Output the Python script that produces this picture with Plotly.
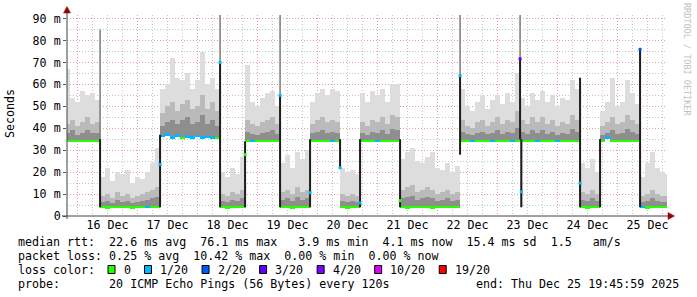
import plotly.graph_objects as go
import pandas as pd

# ---------------- data ----------------
first_bin = "2025-12-15 19:00"   # 2-hour bins
x_range = ["2025-12-15 19:46", "2025-12-25 19:46"]

median = [
    34.3, 34.2, 34.2, 34.3, 34.2, 34.2, 34.3,
    4.1, 4.0, 4.1, 4.1, 4.2, 4.1, 4.0, 4.1, 4.1, 4.2, 4.1, 4.1,
    36.5, 37.2, 36.0, 36.8, 35.8, 36.3, 36.0, 36.5, 35.9, 36.2, 36.0, 35.8,
    4.1, 4.0, 4.1, 4.1, 4.2,
    34.3, 34.2, 34.2, 34.3, 34.2, 34.3, 34.2,
    4.1, 4.1, 4.0, 4.1, 4.1, 4.2,
    34.3, 34.2, 34.3, 34.2, 34.2, 34.3,
    4.1, 4.0, 4.1, 4.1,
    34.3, 34.2, 34.2, 34.3, 34.2, 34.2, 34.3, 34.2,
    4.1, 4.0, 4.1, 4.1, 4.2, 4.1, 4.0, 4.1, 4.1, 4.2, 4.1, 4.1,
    34.3, 34.2, 34.4, 34.2, 34.3, 34.2, 34.4, 34.2, 34.3, 34.2, 34.3, 34.2,
    34.4, 34.2, 34.3, 34.2, 34.3, 34.2, 34.4, 34.2, 34.3, 34.2, 34.3, 34.2,
    4.1, 4.0, 4.1, 4.1,
    34.3, 36.0, 34.3, 34.2, 34.2, 34.3, 34.2, 34.3,
    4.1, 4.0, 4.1, 4.1, 4.2, 4.1,
]

loss = [
    0, 0, 0, 0, 0, 0, 0,
    0, 0, 0, 0, 0, 0, 0, 0, 0, 1, 0, 0,
    1, 1, 1, 1, 0, 1, 1, 1, 1, 1, 1, 0,
    0, 0, 0, 0, 0,
    0, 1, 0, 0, 0, 0, 0,
    0, 0, 0, 0, 0, 0,
    0, 0, 0, 0, 1, 0,
    0, 0, 0, 0,
    0, 0, 0, 1, 0, 0, 0, 0,
    0, 0, 0, 0, 0, 0, 0, 0, 0, 0, 0, 0,
    0, 0, 1, 0, 0, 0, 1, 0, 0, 0, 1, 0,
    0, 0, 0, 1, 0, 0, 0, 1, 0, 0, 0, 0,
    0, 0, 0, 0,
    0, 1, 0, 0, 0, 0, 0, 0,
    1, 0, 0, 0, 0, 0,
]

smoke_max = [
    67, 54, 52, 57, 55, 56, 53,
    18, 22, 16, 20, 19, 21, 15, 18, 17, 20, 24, 31,
    58, 60, 72, 63, 62, 65, 58, 62, 75, 60, 63, 58,
    20, 18, 22, 19, 27,
    69, 52, 50, 54, 56, 57, 50,
    24, 28, 22, 29, 26, 30,
    52, 56, 58, 55, 58, 57,
    22, 20, 21, 19,
    56, 52, 57, 55, 58, 52, 60, 60,
    26, 29, 31, 25, 24, 27, 29, 22, 21, 24, 20, 23,
    58, 50, 48, 52, 55, 49, 53, 55, 51, 56, 52, 65,
    54, 50, 56, 53, 57, 52, 55, 50, 54, 53, 62, 58,
    24, 22, 26, 20,
    48, 52, 63, 50, 52, 62, 56, 51,
    18, 24, 29, 22, 20, 19,
]

smoke_q80 = [
    42, 44, 41, 43, 45, 42, 43,
    9, 10, 8, 11, 9, 10, 8, 9, 10, 11, 12, 13,
    47, 50, 52, 48, 51, 53, 49, 50, 55, 49, 52, 48,
    10, 9, 11, 10, 12,
    44, 42, 41, 43, 44, 45, 42,
    11, 12, 10, 13, 11, 12,
    42, 44, 45, 43, 44, 43,
    10, 9, 10, 9,
    43, 41, 44, 43, 45, 42, 46, 45,
    12, 13, 14, 11, 12, 13, 12, 10, 11, 12, 10, 11,
    44, 41, 40, 43, 44, 41, 43, 45, 42, 44, 43, 48,
    44, 42, 45, 43, 45, 42, 44, 41, 43, 42, 46, 44,
    11, 10, 12, 10,
    41, 43, 45, 42, 43, 46, 44, 42,
    9, 10, 12, 10, 9, 9,
]

smoke_q60 = [
    38, 39, 37, 38, 39, 38, 38,
    6.5, 7, 6, 7.5, 6.5, 7, 6, 6.5, 7, 7.5, 8, 8.5,
    41, 43, 44, 42, 44, 45, 42, 43, 46, 42, 44, 41,
    7, 6.5, 7.5, 7, 8,
    38.5, 37.5, 37, 38, 38.5, 39, 37.5,
    7.5, 8, 7, 8.5, 7.5, 8,
    38, 38.5, 39, 38, 38.5, 38,
    7, 6.5, 7, 6.5,
    38, 37, 38.5, 38, 39, 37.5, 39.5, 39,
    8, 8.5, 9, 7.5, 8, 8.5, 8, 7, 7.5, 8, 7, 7.5,
    38.5, 37.5, 37, 38, 38.5, 37.5, 38, 39, 37.5, 38.5, 38, 40,
    38.5, 37.5, 39, 38, 39, 37.5, 38.5, 37, 38, 37.5, 39.5, 38.5,
    7.5, 7, 8, 7,
    37, 38, 39, 37.5, 38, 39.5, 38.5, 37.5,
    6.5, 7, 8, 7, 6.5, 6.5,
]

# level changes (steps where pings spanned both levels)
trans_time = ["2025-12-16 09:00", "2025-12-17 09:00", "2025-12-18 09:00",
              "2025-12-18 19:00", "2025-12-19 09:00", "2025-12-19 21:00",
              "2025-12-20 09:00", "2025-12-20 17:00", "2025-12-21 09:00",
              "2025-12-22 09:00", "2025-12-23 09:00", "2025-12-23 09:30",
              "2025-12-24 09:00", "2025-12-24 17:00", "2025-12-25 09:00"]
trans_max = [85, 37, 92, 34, 92, 35, 35, 35, 35, 92, 92, 35, 63, 35, 76]
trans_lo = [4, 4, 4, 4, 4, 4, 22, 4, 4, 28, 35, 4, 4, 4, 4]
trans_hi = [35, 37, 70, 34, 55, 35, 35, 35, 35, 64, 71.7, 35, 63, 35, 76]
trans_dot = [None, 23.5, 70, 28, 55, 10.6, 22, 6, 7, 64, 71.7, 11, 15, None, 76]
trans_loss = [0, 1, 1, 0, 1, 1, 1, 1, 0, 1, 3, 1, 1, 0, 2]

loss_levels = [0, 1, 2, 3, 4, 10, 19]
loss_labels = ["0", "1/20", "2/20", "3/20", "4/20", "10/20", "19/20"]
loss_colors = ["#26ff00", "#00b8ff", "#0059ff", "#5e00ff", "#7e00ff", "#dd00ff", "#ff0000"]

y_tick_vals = [0, 10, 20, 30, 40, 50, 60, 70, 80, 90]
y_tick_text = ["0", "10 m", "20 m", "30 m", "40 m", "50 m", "60 m", "70 m", "80 m", "90 m"]

legend_line1 = "median rtt:  22.6 ms avg  76.1 ms max   3.9 ms min  4.1 ms now  15.4 ms sd  1.5   am/s"
legend_line2 = "packet loss: 0.25 % avg  10.42 % max  0.00 % min  0.00 % now"
legend_line3 = "loss color:"
legend_line4 = "probe:       20 ICMP Echo Pings (56 Bytes) every 120s"
end_text = "end: Thu Dec 25 19:45:59 2025"
y_title = "Seconds"
watermark = "RRDTOOL / TOBI OETIKER"

# ---------------- figure ----------------
MONO = "DejaVu Sans Mono"
FS = 11.65
W, H = 697, 297
ML, MR, MT, MB = 67, 30, 15, 81
PW, PH = W - ML - MR, H - MT - MB


def px(x):
    return (x - ML) / PW


def py(y):
    return (H - MB - y) / PH


color_of = dict(zip(loss_levels, loss_colors))
starts = pd.date_range(first_bin, periods=len(median), freq="2h")
centers = starts + pd.Timedelta(hours=1)
bw = 2 * 3600 * 1000

fig = go.Figure()
for top, col in [(smoke_max, "#dddddd"), (smoke_q80, "#bababa"), (smoke_q60, "#8e8e8e")]:
    fig.add_trace(go.Bar(
        x=centers, base=median, y=[t - m for t, m in zip(top, median)],
        width=bw, marker=dict(color=col, line=dict(width=0)), hoverinfo="skip"))

# median line, coloured by loss
fig.add_trace(go.Bar(
    x=centers, base=[m - 0.45 for m in median], y=[0.9] * len(median), width=bw,
    marker=dict(color=[color_of[l] for l in loss], line=dict(width=0)), hoverinfo="skip"))

# level-change spikes
gx, gy, dx, dy = [], [], [], []
for t, mx, lo, hi in zip(trans_time, trans_max, trans_lo, trans_hi):
    gx += [t, t, None]
    gy += [lo, mx, None]
    dx += [t, t, None]
    dy += [lo, hi, None]
fig.add_trace(go.Scatter(x=gx, y=gy, mode="lines", line=dict(color="#7a7a7a", width=1.5),
                         hoverinfo="skip"))
fig.add_trace(go.Scatter(x=dx, y=dy, mode="lines", line=dict(color="#1e1e1e", width=2),
                         hoverinfo="skip"))
pts = [(t, v, l) for t, v, l in zip(trans_time, trans_dot, trans_loss) if v is not None]
fig.add_trace(go.Scatter(
    x=[p[0] for p in pts], y=[p[1] for p in pts], mode="markers",
    marker=dict(symbol="square", size=3, color=[color_of[p[2]] for p in pts], line=dict(width=0)),
    hoverinfo="skip"))

MAJ = "#e89b9b"
MIN = "#c4c4c4"
DOT = "1px,2px"
fig.update_layout(
    width=W, height=H, margin=dict(l=ML, r=MR, t=MT, b=MB),
    paper_bgcolor="white", plot_bgcolor="white", showlegend=False,
    barmode="overlay", bargap=0,
    font=dict(family=MONO, size=FS, color="#000000"),
    xaxis=dict(type="date", range=x_range, tick0="2025-12-16", dtick=86400000,
               ticklabelmode="period", tickformat="%d %b", showgrid=True,
               gridcolor=MAJ, griddash=DOT, gridwidth=1, zeroline=False, showline=False,
               ticks="", tickfont=dict(family=MONO, size=FS, color="#000"),
               minor=dict(tick0="2025-12-16", dtick=21600000, showgrid=True,
                          gridcolor=MIN, griddash=DOT, gridwidth=1, ticks="")),
    yaxis=dict(range=[0, PH / 2.193], tickmode="array", tickvals=y_tick_vals,
               ticktext=y_tick_text, showgrid=True, gridcolor=MAJ, griddash=DOT,
               gridwidth=1, zeroline=False, showline=False, ticks="outside", ticklen=3,
               tickcolor="#555", tickfont=dict(family=MONO, size=FS, color="#000"),
               minor=dict(tickmode="linear", tick0=0, dtick=5, showgrid=True,
                          gridcolor=MIN, griddash=DOT, gridwidth=1, ticks="")),
)

# axis lines and arrows
AX = "#404040"
ARR = "#990000"
fig.add_shape(type="line", xref="paper", yref="paper", x0=px(62), x1=px(668),
              y0=py(216), y1=py(216), line=dict(color=AX, width=1))
fig.add_shape(type="line", xref="paper", yref="paper", x0=px(67), x1=px(67),
              y0=py(219), y1=py(11), line=dict(color=AX, width=1))
fig.add_shape(type="path", xref="paper", yref="paper",
              path=f"M {px(668)} {py(212.5)} L {px(668)} {py(219.5)} L {px(674.5)} {py(216)} Z",
              fillcolor=ARR, line=dict(color=ARR, width=0.5))
fig.add_shape(type="path", xref="paper", yref="paper",
              path=f"M {px(63.5)} {py(13)} L {px(70.5)} {py(13)} L {px(67)} {py(6.5)} Z",
              fillcolor=ARR, line=dict(color=ARR, width=0.5))

NB = "\u00a0"


def note(text, x, y, anchor="left", **kw):
    fig.add_annotation(text=text.replace(" ", NB), xref="paper", yref="paper",
                       x=px(x), y=py(y), xanchor=anchor, yanchor="middle",
                       showarrow=False, font=dict(family=MONO, size=FS, color="#000"), **kw)


note(legend_line1, 15.5, 241.5)
note(legend_line2, 15.5, 255.5)
note(legend_line3, 15.5, 269.5)
note(legend_line4, 15.5, 283.5)
note(end_text, 681, 283.5, anchor="right")

# loss colour swatches
cx = 108
for lab, col in zip(loss_labels, loss_colors):
    fig.add_shape(type="rect", xref="paper", yref="paper", x0=px(cx), x1=px(cx + 7),
                  y0=py(273.5), y1=py(265.5), fillcolor=col, line=dict(color="#000", width=1))
    note(lab, cx + 13.5, 269.5)
    cx = cx + 13.5 + len(lab) * 7.01 + 16

fig.add_annotation(text=y_title, xref="paper", yref="paper", x=px(10), y=py(114),
                   textangle=-90, showarrow=False, xanchor="center", yanchor="middle",
                   font=dict(family=MONO, size=FS, color="#000"))
fig.add_annotation(text=watermark.replace(" ", NB), xref="paper", yref="paper", x=px(687),
                   y=py(59), textangle=90, showarrow=False, xanchor="center", yanchor="middle",
                   font=dict(family=MONO, size=8.5, color="#c0c0c0"))

fig.write_html("out.html")
